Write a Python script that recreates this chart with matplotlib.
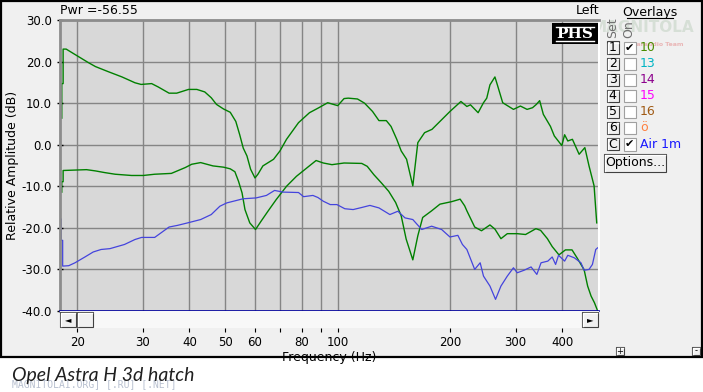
import matplotlib
matplotlib.use("Agg")
import matplotlib.pyplot as plt
from matplotlib.patches import Rectangle
from matplotlib.lines import Line2D

W, H = 703, 392

# upper green trace (overlay 1)
f_top = [18.2, 18.2, 18.35, 18.35, 18.7, 19.75, 21.4, 22.4, 24.2, 26.4, 28.6, 29.7,
         31.7, 33.0, 35.3, 37.0, 39.8, 41.9, 44.0, 45.8, 47.3, 49.4, 51.5, 53.3, 54.6,
         55.8, 57.1, 58.4, 60.0, 61.1, 63.0, 67.3, 70.0, 72.9, 78.5, 84, 89, 94, 100,
         104, 106.7, 113, 118, 124, 129, 135, 139, 144, 148, 153, 159, 164, 171, 179,
         188, 200, 214, 222, 227, 238, 246, 251, 256, 264, 268, 277, 296, 309, 322,
         333, 341, 348, 356, 372, 381, 399, 406, 414, 426, 444, 460, 472, 487, 495]
db_top = [6.4, 14.7, 14.7, 23.0, 23.0, 21.7, 19.8, 18.8, 17.6, 16.3, 14.9, 14.5,
          14.7, 13.9, 12.4, 12.4, 13.3, 13.3, 12.7, 11.3, 9.7, 8.6, 7.8, 5.6, 2.4,
          -0.8, -2.7, -5.9, -8.0, -7.1, -5.1, -3.5, -1.5, 1.3, 5.3, 7.7, 8.9, 10.1, 9.4,
          11.1, 11.2, 11.0, 10.0, 8.0, 5.8, 5.8, 4.4, 1.3, -1.5, -3.5, -9.9, 0.5, 2.9, 3.7,
          5.6, 8.0, 10.4, 9.2, 9.6, 7.7, 10.1, 11.2, 14.4, 16.3, 14.4, 10.1, 8.5, 9.3, 8.5,
          8.9, 9.7, 10.6, 7.3, 4.4, 2.1, -0.2, 2.4, 0.9, 1.3, -2.3, -0.7, -5.1, -9.9, -18.8]

# lower green trace
f_mid = [18.2, 18.2, 18.35, 18.35, 21.2, 22.4, 23.7, 25.3, 28.0, 30.1, 32.3, 35.8,
         39.0, 40.6, 42.9, 46.3, 49.4, 51.5, 53.0, 54.2, 55.4, 56.4, 58.1, 60.2, 62.3,
         65.0, 68.4, 72.9, 77.5, 82.6, 87.5, 91.5, 96.5, 104, 116, 120, 125, 131, 137,
         143, 148, 152.6, 159, 164, 169, 178.6, 188, 202, 213, 219, 222, 233, 243, 256,
         264, 274, 285, 303, 319, 340, 350, 365, 376, 392, 408, 425, 439, 458, 468,
         478, 488, 498]
db_mid = [-11.4, -8.9, -8.9, -6.2, -6.0, -6.3, -6.7, -7.1, -7.4, -7.4, -7.1, -6.9,
          -5.5, -4.7, -4.3, -5.1, -5.4, -5.8, -6.5, -8.8, -11.6, -15.6, -18.8, -20.4, -18.4,
          -16.0, -13.2, -10.0, -7.6, -5.6, -3.8, -4.4, -4.8, -4.4, -4.5, -5.2, -7.2, -9.2, -11.2,
          -13.9, -17.1, -22.7, -27.7, -21.9, -17.5, -15.9, -14.3, -13.7, -13.1, -14.7, -15.9,
          -19.8, -20.7, -19.3, -20.3, -22.6, -21.4, -21.4, -21.6, -20.2, -20.6, -22.6, -24.5,
          -26.5, -25.3, -25.3, -27.3, -30.1, -34.0, -36.4, -38.0, -40.0]

# blue trace (Air 1m)
f_air = [18.15, 18.15, 18.3, 18.3, 19.0, 19.75, 21, 22.1, 23.2, 24.5, 26.8, 28.6, 29.8,
         32.3, 35.3, 37.2, 39.6, 42.9, 45.8, 48.3, 50.4, 55.8, 60.4, 64.4, 67.7, 71.4,
         78.5, 81, 85.8, 88.5, 91.5, 95.5, 99.5, 104.5, 110, 116, 122, 129, 138, 145,
         151.5, 159, 168, 178.6, 190, 200, 210, 216, 222, 233, 241, 246, 256, 265, 274,
         285, 296, 303, 316, 330, 342, 351, 366, 376, 384, 391, 406, 414, 431, 449, 458,
         472, 482, 492, 498]
db_air = [-17.9, -23.0, -23.0, -29.2, -29.1, -28.4, -27.0, -25.8, -25.2, -25.0, -24.0,
          -22.8, -22.3, -22.3, -19.8, -19.4, -18.8, -18.0, -16.8, -14.8, -14.0, -13.0, -12.8,
          -12.2, -11.0, -11.4, -11.5, -12.5, -12.2, -12.7, -13.6, -14.4, -14.4, -15.4, -15.6,
          -15.1, -14.6, -15.2, -16.8, -16.0, -17.6, -18.0, -20.4, -19.6, -20.4, -22.2, -21.8,
          -24.0, -25.2, -30.0, -28.4, -31.6, -34.0, -37.2, -34.0, -31.6, -29.6, -30.8, -30.2,
          -29.4, -31.2, -28.4, -28.0, -27.0, -28.8, -26.6, -28.0, -26.6, -27.2, -28.4, -30.2,
          -30.0, -28.8, -25.2, -24.8]

grid_x = [20, 30, 40, 50, 60, 70, 80, 90, 100, 200, 300, 400]
tick_labels = {20: "20", 30: "30", 40: "40", 50: "50", 60: "60", 80: "80",
               100: "100", 200: "200", 300: "300", 400: "400"}
y_ticks = [-40, -30, -20, -10, 0, 10, 20, 30]

overlay_sets = ["1", "2", "3", "4", "5", "6", "C"]
overlay_names = ["10", "13", "14", "15", "16", "ö", "Air 1m"]
overlay_colors = ["#4a8c00", "#00b4c4", "#8c008c", "#ff00ff", "#a05a14", "#ff8040", "#1a1aff"]
overlay_on = [True, False, False, False, False, False, True]

fig = plt.figure(figsize=(W / 100, H / 100), dpi=100, facecolor="white")


def fx(x):
    return x / W


def fy(y):
    return 1 - y / H


def rect(x0, y0, x1, y1, **kw):
    fig.add_artist(Rectangle((fx(x0), fy(y1)), (x1 - x0) / W, (y1 - y0) / H,
                             transform=fig.transFigure, **kw))


def hline(x0, x1, y, **kw):
    fig.add_artist(Line2D([fx(x0), fx(x1)], [fy(y), fy(y)], transform=fig.transFigure, **kw))


def button(x0, y0, x1, y1, label, size=9):
    rect(x0, y0, x1, y1, facecolor="#f0f0f0", edgecolor="#404040", lw=0.8)
    fig.add_artist(Line2D([fx(x0 + 1), fx(x0 + 1), fx(x1 - 1)],
                          [fy(y1 - 1), fy(y0 + 1), fy(y0 + 1)],
                          transform=fig.transFigure, color="white", lw=1))
    fig.text(fx((x0 + x1) / 2), fy((y0 + y1) / 2), label, ha="center", va="center",
             fontsize=size, color="black")


# window background
rect(0.5, 0.5, 702, 357, facecolor="#f0f0f0", edgecolor="black", lw=1.6, zorder=-5)

ax = fig.add_axes([fx(60), fy(311), 539 / W, 291 / H])
ax.set_facecolor("#d8d8d8")
ax.plot(f_top, db_top, color="#008000", lw=1.0)
ax.plot(f_mid, db_mid, color="#008000", lw=1.0)
ax.plot(f_air, db_air, color="#4444dd", lw=0.9)
ax.set_xscale("log")
ax.set_xlim(18.0, 502)
ax.set_ylim(-40, 30)
ax.set_xticks(grid_x)
ax.xaxis.set_minor_locator(matplotlib.ticker.NullLocator())
ax.tick_params(axis="x", length=0, labelbottom=False)
ax.set_yticks(y_ticks)
ax.set_yticklabels(["%.1f" % v for v in y_ticks])
ax.tick_params(axis="y", direction="inout", length=4, width=1, color="black",
               labelsize=8.5, pad=4)
ax.grid(True, color="#858585", lw=1.0)
for side in ["top", "left"]:
    ax.spines[side].set_color("#8c8c8c")
    ax.spines[side].set_linewidth(2)
ax.spines["right"].set_color("white")
ax.spines["right"].set_linewidth(1.5)
ax.spines["bottom"].set_color("#0000a0")
ax.spines["bottom"].set_linewidth(1.2)
ax.set_ylabel("Relative Amplitude (dB)", fontsize=9, labelpad=2)

# scrollbar strip, also carries the frequency ticks
sb = fig.add_axes([fx(60), fy(328), 539 / W, 17 / H])
sb.set_facecolor("#f8f8f8")
sb.set_xscale("log")
sb.set_xlim(18.0, 502)
sb.set_ylim(0, 1)
sb.set_xticks(grid_x)
sb.set_xticklabels([tick_labels.get(v, "") for v in grid_x])
sb.xaxis.set_minor_locator(matplotlib.ticker.NullLocator())
sb.set_yticks([])
sb.tick_params(axis="x", direction="out", length=3, labelsize=8.5, pad=3)
for side in ["top", "left", "right", "bottom"]:
    sb.spines[side].set_visible(False)
sb.set_xlabel("Frequency (Hz)", fontsize=9, labelpad=1)

button(60, 312, 76, 327, "◄", size=6)
button(77, 312, 93, 327, "")
button(582, 312, 598, 327, "►", size=6)

fig.text(fx(60), fy(10), "Pwr =-56.55", fontsize=9, va="center")
fig.text(fx(599), fy(10), "Left", fontsize=9, va="center", ha="right")

# PHS badge
rect(552, 23, 598, 44, facecolor="black", edgecolor="none")
hline(556, 594, 26.5, color="white", lw=1)
hline(556, 594, 40.5, color="white", lw=1)
fig.text(fx(575), fy(33.5), "PHS", color="white", fontsize=11, fontweight="bold",
         family="DejaVu Serif", ha="center", va="center")

# faint logo behind the overlay panel
fig.text(fx(643), fy(28), "MAGNITOLA", color="#9cb89c", alpha=0.3, fontsize=11,
         fontweight="bold", ha="center", va="center", zorder=-2)
fig.text(fx(658), fy(44), "Caraudio Team", color="#e06060", alpha=0.4, fontsize=4.5,
         fontweight="bold", ha="center", va="center", zorder=-2)

fig.text(fx(650), fy(12.5), "Overlays", fontsize=9, ha="center", va="center")
hline(627, 673, 18, color="black", lw=0.8)
fig.text(fx(613), fy(28), "Set", fontsize=9, rotation=90, ha="center", va="center",
         color="#707070")
fig.text(fx(629), fy(29), "On", fontsize=9, rotation=90, ha="center", va="center",
         color="#707070")

for i, (s, name, col, on) in enumerate(zip(overlay_sets, overlay_names,
                                           overlay_colors, overlay_on)):
    yc = 47.5 + i * 16.1
    button(606.5, yc - 6, 619, yc + 6, s)
    rect(623.5, yc - 6, 636, yc + 6.5, facecolor="white", edgecolor="#a0a0a0", lw=0.8)
    if on:
        fig.text(fx(629.8), fy(yc), "✔", fontsize=8, ha="center", va="center")
    fig.text(fx(640), fy(yc), name, fontsize=9, color=col, va="center")

button(604, 154, 666, 171.5, "Options...")
button(616, 347, 624, 355, "+", size=6)
button(692, 347, 700, 355, "-", size=6)

# caption under the window
fig.text(fx(12), fy(375), "Opel Astra H 3d hatch", fontsize=14, style="italic",
         family=["Lato", "DejaVu Sans"], va="center", color="#202020")
fig.text(fx(12), fy(384), "MAGNITOLAI.ORG] [.RU] [.NET]", fontsize=7,
         family="DejaVu Sans Mono", va="center", color="#b8c0d0", zorder=-1)

fig.savefig("out.png", dpi=100, facecolor="white")
